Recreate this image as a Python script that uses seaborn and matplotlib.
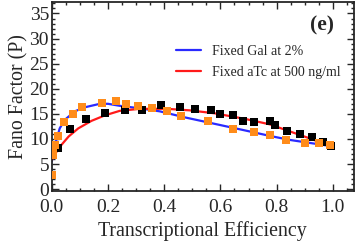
import numpy as np
import pandas as pd
import matplotlib
matplotlib.use("Agg")
import matplotlib.pyplot as plt
from matplotlib.ticker import MultipleLocator
import seaborn as sns

black_x = [0.022, 0.063, 0.12, 0.188, 0.26, 0.32, 0.39, 0.455, 0.51, 0.566,
           0.60, 0.644, 0.68, 0.72, 0.776, 0.794, 0.836, 0.883, 0.926, 0.964, 0.995]
black_y = [8.2, 11.9, 14.0, 15.1, 15.7, 15.8, 16.7, 16.3, 16.0, 15.8,
           15.0, 14.7, 13.6, 13.4, 13.5, 12.7, 11.5, 10.9, 10.3, 9.3, 8.6]

orange_x = [0.0, 0.003, 0.005, 0.01, 0.022, 0.044, 0.075, 0.108, 0.18, 0.227,
            0.263, 0.306, 0.357, 0.41, 0.458, 0.555, 0.644, 0.72, 0.778, 0.833,
            0.9, 0.95, 0.99]
orange_y = [2.8, 6.8, 7.8, 8.7, 10.5, 13.4, 15.0, 16.3, 17.1, 17.5,
            17.0, 16.5, 16.1, 15.6, 14.6, 13.5, 12.0, 11.3, 10.7, 9.8,
            9.1, 9.1, 8.7]

# Model curves
gal_x = [0.0, 0.005, 0.011, 0.028, 0.046, 0.082, 0.117, 0.171, 0.2, 0.242,
         0.313, 0.384, 0.473, 0.58, 0.687, 0.776, 0.847, 0.918, 0.99]
gal_y = [5.5, 7.2, 8.8, 12.1, 13.8, 15.5, 16.3, 17.0, 17.0, 16.6,
         16.1, 15.5, 14.3, 13.0, 11.7, 10.6, 9.8, 9.2, 8.6]

atc_x = [0.0, 0.01, 0.034, 0.06, 0.094, 0.141, 0.189, 0.242, 0.313, 0.408,
         0.49, 0.58, 0.687, 0.776, 0.847, 0.918, 0.99]
atc_y = [5.8, 6.9, 8.8, 10.5, 12.1, 13.6, 14.7, 15.6, 16.0, 16.0,
         15.7, 15.1, 14.0, 12.9, 11.5, 10.1, 8.6]

sns.set_style("ticks")
plt.rcParams['font.family'] = ['Liberation Serif', 'DejaVu Serif']

fig = plt.figure(figsize=(3.6, 2.45), dpi=100)
ax = fig.add_axes([0.144, 0.22, 0.839, 0.772])

sns.lineplot(x=gal_x, y=gal_y, ax=ax, color='#2a2aff', lw=1.6,
             label='Fixed Gal at 2%', sort=False, zorder=2)
sns.lineplot(x=atc_x, y=atc_y, ax=ax, color='#ff1a1a', lw=1.6,
             label='Fixed aTc at 500 ng/ml', sort=False, zorder=2)
sns.scatterplot(x=black_x, y=black_y, ax=ax, marker='s', color='black',
                s=32, linewidth=0, zorder=3)
sns.scatterplot(x=orange_x, y=orange_y, ax=ax, marker='s', color='#ff8c1a',
                s=32, linewidth=0, zorder=4)

ax.set_xlim(0, 1.075)
ax.set_ylim(-0.4, 37.3)
ax.xaxis.set_major_locator(MultipleLocator(0.2))
ax.xaxis.set_minor_locator(MultipleLocator(0.05))
ax.yaxis.set_major_locator(MultipleLocator(5))
ax.yaxis.set_minor_locator(MultipleLocator(1))
ax.set_xticklabels([f"{v:.1f}" for v in ax.get_xticks()])
ax.tick_params(which='both', direction='in', top=True, right=True,
               labelsize=14, width=1)
ax.tick_params(which='major', length=5)
ax.tick_params(axis='x', which='major', pad=5.5)
ax.tick_params(axis='y', which='major', pad=2)
ax.tick_params(which='minor', length=2.5)
for sp in ax.spines.values():
    sp.set_linewidth(1.3)

ax.set_xlabel('Transcriptional Efficiency', fontsize=14.3, labelpad=4)
ax.set_ylabel('Fano Factor (P)', fontsize=14.3, labelpad=1)

ax.legend(loc='upper left', bbox_to_anchor=(0.37, 0.84), frameon=False,
          fontsize=10, handlelength=1.8, handletextpad=0.8, labelspacing=0.6)
ax.text(0.893, 0.875, '(e)', transform=ax.transAxes, fontsize=15.5,
        fontweight='bold', ha='center', va='center')

fig.savefig('out.png', dpi=100)
